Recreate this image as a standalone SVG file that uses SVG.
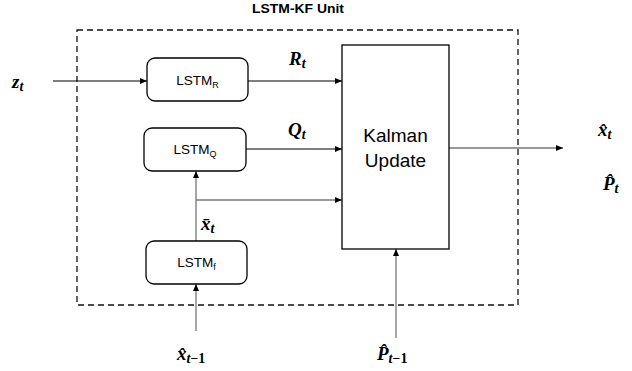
<svg xmlns="http://www.w3.org/2000/svg" width="632" height="371" viewBox="0 0 632 371">
<style>
.box{fill:#fff;stroke:#000;stroke-width:1.3}
.lstm{font-family:"Liberation Sans",Arial,sans-serif;font-size:13.5px;fill:#000}
.sub{font-size:9px}
.math{font-family:"Liberation Serif","Times New Roman",serif;font-weight:bold;font-style:italic;font-size:19px;fill:#000}
.ms{font-size:14px}
.up{font-style:normal}
.c{stroke:#000;stroke-width:1.1;fill:none}
.g{stroke:#777;stroke-width:1.3;fill:none}
</style>
<defs>
<marker id="ah" markerWidth="8" markerHeight="6" refX="7" refY="3" orient="auto" markerUnits="userSpaceOnUse">
<path d="M0,0 L7,3 L0,6 Z" fill="#000"/>
</marker>
</defs>
<rect width="632" height="371" fill="#fff"/>
<text x="298" y="13" text-anchor="middle" font-family="'Liberation Sans',Arial,sans-serif" font-weight="bold" font-size="13" textLength="92" lengthAdjust="spacingAndGlyphs">LSTM-KF Unit</text>
<g id="unit-boundary">
<rect x="77" y="30" width="441" height="275" fill="none" stroke="#111" stroke-width="1.3" stroke-dasharray="6,4"/>
</g>
<g id="connectors">
<line class="c" x1="53" y1="81" x2="147" y2="81" marker-end="url(#ah)"/>
<line class="c" x1="248" y1="81" x2="342" y2="81" marker-end="url(#ah)"/>
<line class="c" x1="246" y1="149" x2="342" y2="149" marker-end="url(#ah)"/>
<line class="g" x1="196" y1="241" x2="196" y2="171" marker-end="url(#ah)"/>
<line class="g" x1="196" y1="200" x2="342" y2="200" marker-end="url(#ah)"/>
<line class="g" x1="196" y1="331" x2="196" y2="284" marker-end="url(#ah)"/>
<line class="g" x1="396" y1="338" x2="396" y2="249" marker-end="url(#ah)"/>
<line class="g" x1="449" y1="148" x2="563" y2="148" marker-end="url(#ah)"/>
</g>
<g id="lstm-r">
<rect class="box" x="147" y="58" width="101" height="43" rx="8"/>
<text class="lstm" x="197.5" y="85" text-anchor="middle">LSTM<tspan class="sub" dy="3">R</tspan></text>
</g>
<g id="lstm-q">
<rect class="box" x="144" y="128" width="102" height="43" rx="8"/>
<text class="lstm" x="195" y="154" text-anchor="middle">LSTM<tspan class="sub" dy="3">Q</tspan></text>
</g>
<g id="lstm-f">
<rect class="box" x="146" y="241" width="101" height="43" rx="8"/>
<text class="lstm" x="196.5" y="267" text-anchor="middle">LSTM<tspan class="sub" dy="3">f</tspan></text>
</g>
<g id="kalman-update">
<rect class="box" x="342" y="45" width="107" height="204"/>
<text x="395.5" y="142" text-anchor="middle" font-family="'Liberation Sans',Arial,sans-serif" font-size="19">Kalman</text>
<text x="395.5" y="167" text-anchor="middle" font-family="'Liberation Sans',Arial,sans-serif" font-size="19">Update</text>
</g>
<g id="labels">
<text class="math" x="12" y="88">z<tspan class="ms" dy="3">t</tspan></text>
<text class="math" x="289" y="65">R<tspan class="ms" dy="3">t</tspan></text>
<text class="math" x="288" y="136">Q<tspan class="ms" dy="3">t</tspan></text>
<text class="math" x="201" y="230">x̄<tspan class="ms" dy="3">t</tspan></text>
<text class="math" x="598" y="136">x̂<tspan class="ms" dy="3">t</tspan></text>
<text class="math" x="603" y="190">P̂<tspan class="ms" dy="3">t</tspan></text>
<text class="math" x="177" y="360">x̂<tspan class="ms" dy="3">t<tspan class="up">−1</tspan></tspan></text>
<text class="math" x="377" y="360">P̂<tspan class="ms" dy="3">t<tspan class="up">−1</tspan></tspan></text>
</g>
</svg>
